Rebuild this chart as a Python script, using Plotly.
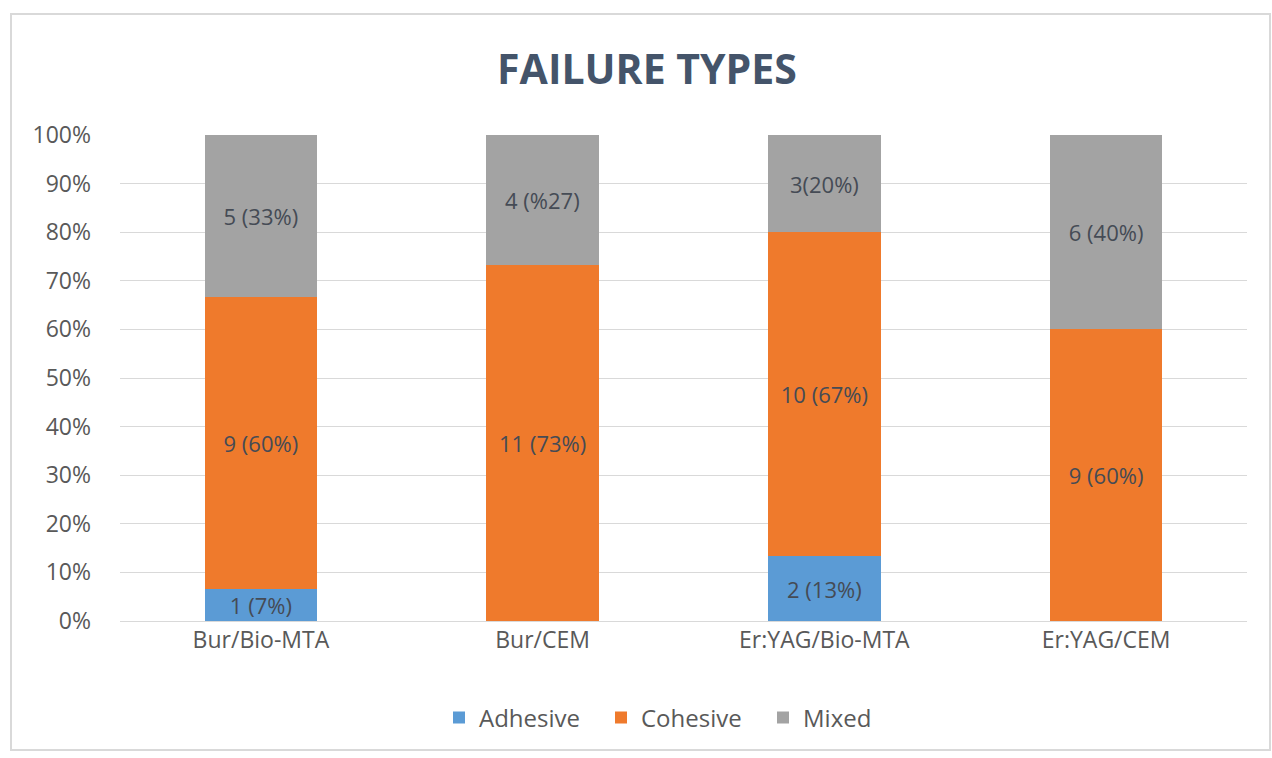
import plotly.graph_objects as go

categories = ["Bur/Bio-MTA", "Bur/CEM", "Er:YAG/Bio-MTA", "Er:YAG/CEM"]
adhesive = [1, 0, 2, 0]
cohesive = [9, 11, 10, 9]
mixed = [5, 4, 3, 6]
adhesive_labels = ["1 (7%)", "", "2 (13%)", ""]
cohesive_labels = ["9 (60%)", "11 (73%)", "10 (67%)", "9 (60%)"]
mixed_labels = ["5 (33%)", "4 (%27)", "3(20%)", "6 (40%)"]
y_ticks = [0, 10, 20, 30, 40, 50, 60, 70, 80, 90, 100]
y_tick_labels = [f"{v}%" for v in y_ticks]

FONT = "Open Sans"
TXT = "#595959"
LBL = "#454b55"

# this one label is not drawn by plotly's bar text; it is placed as an annotation
ANNOTATED = {("Mixed", 1)}

series = [
    ("Adhesive", adhesive, adhesive_labels, "#5B9BD5"),
    ("Cohesive", cohesive, cohesive_labels, "#EF7A2C"),
    ("Mixed", mixed, mixed_labels, "#A3A3A3"),
]

fig = go.Figure()
for name, vals, labels, color in series:
    shown = ["" if (name, i) in ANNOTATED else t for i, t in enumerate(labels)]
    fig.add_trace(go.Bar(
        name=name, x=categories, y=vals, text=shown,
        marker=dict(color=color, line=dict(width=0)),
        textposition="inside", insidetextanchor="middle", textangle=0,
        textfont=dict(family=FONT, size=22, color=LBL),
        cliponaxis=False,
    ))

for name, i in ANNOTATED:
    idx = [s[0] for s in series].index(name)
    tot = adhesive[i] + cohesive[i] + mixed[i]
    below = sum(s[1][i] for s in series[:idx])
    mid = (below + series[idx][1][i] / 2) / tot * 100
    fig.add_annotation(x=categories[i], y=mid, text=series[idx][2][i], showarrow=False,
                       font=dict(family=FONT, size=22, color=LBL))

fig.update_layout(
    barmode="stack", barnorm="percent", bargap=0.6,
    width=1272, height=758,
    margin=dict(l=120, r=25, t=135, b=137),
    paper_bgcolor="white", plot_bgcolor="white",
    font=dict(family=FONT, color=TXT),
    title=dict(text="<b>FAILURE TYPES</b>", x=647 / 1272, xanchor="center",
               y=1 - 70 / 758, yanchor="middle",
               font=dict(family=FONT, size=41, color="#44546A")),
    legend=dict(orientation="h", x=(439 - 120) / 1127, xanchor="left",
                y=(621 - 718) / 486, yanchor="middle",
                font=dict(family=FONT, size=24, color=TXT), traceorder="normal",
                itemwidth=30, entrywidth=117, entrywidthmode="pixels"),
    uniformtext=dict(minsize=22, mode="show"),
    showlegend=True,
)
fig.update_yaxes(range=[0, 100], tickvals=y_ticks, ticktext=y_tick_labels,
                 showgrid=True, gridcolor="#D9D9D9", gridwidth=1,
                 zeroline=True, zerolinecolor="#D9D9D9", zerolinewidth=1,
                 showline=False, ticks="", ticklabelstandoff=28,
                 tickfont=dict(family=FONT, size=23, color=TXT))
fig.update_xaxes(showgrid=False, showline=False, ticks="", ticklabelstandoff=3,
                 tickfont=dict(family=FONT, size=23, color=TXT))

fig.add_shape(type="rect", xref="paper", yref="paper",
              x0=(11 - 120) / 1127, x1=(1270 - 120) / 1127,
              y0=(621 - 750) / 486, y1=(621 - 14) / 486,
              line=dict(color="#D9D9D9", width=2), fillcolor="rgba(0,0,0,0)",
              layer="below")

fig.write_html("out.html", config={"displayModeBar": False},
               post_script="document.body.style.margin='0';")
